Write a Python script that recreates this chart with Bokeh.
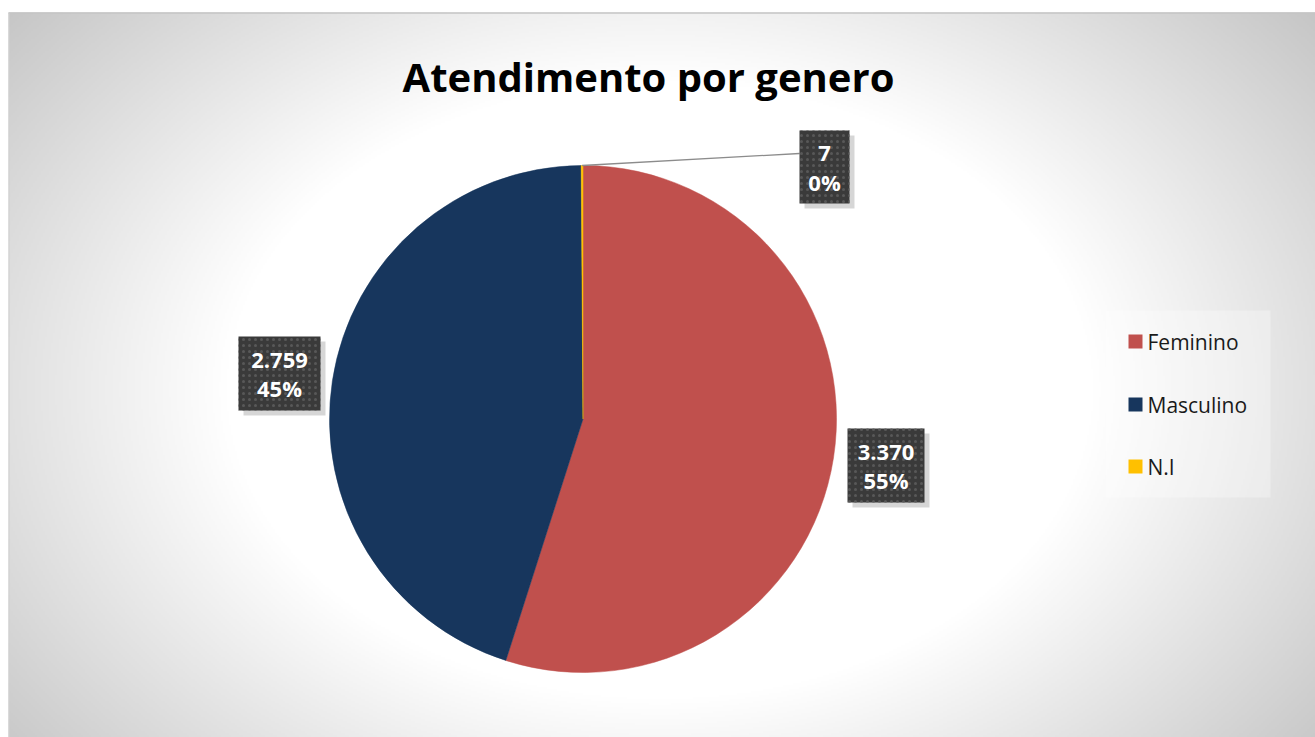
import numpy as np
from bokeh.plotting import figure
from bokeh.models import Range1d, ColumnDataSource
from bokeh.core.properties import value
from bokeh.embed import file_html
from bokeh.resources import INLINE

# ---- data ----
categories = ["Feminino", "Masculino", "N.I"]
counts = [3370, 2759, 7]
count_labels = ["3.370", "2.759", "7"]
pct_labels = ["55%", "45%", "0%"]
colors = ["#C0504D", "#17365D", "#FFC000"]
title_text = "Atendimento por genero"

W, H = 1315, 737
FONT = "Open Sans"

p = figure(width=W, height=H, output_backend="svg", toolbar_location=None,
           x_range=Range1d(0, W), y_range=Range1d(0, H),
           min_border=0, outline_line_color=None)
p.axis.visible = False
p.grid.visible = False
p.background_fill_color = "white"
p.border_fill_color = "white"

def Y(sy):
    return H - sy

# ---- background radial gradient (decoration) ----
step = 2
x0, y0 = 8, 12
xs = np.arange(x0, W, step) + step / 2
ys = np.arange(y0, H, step) + step / 2
X, Yg = np.meshgrid(xs, ys)
t = np.sqrt(((X - 660) / 700.0) ** 2 + ((Yg - 390) / 500.0) ** 2)
g = np.clip(255 - 98 * np.maximum(0, t - 0.62), 190, 255).astype(np.uint32)
img = (255 << 24) | (g << 16) | (g << 8) | g
img = img[::-1].astype(np.uint32)
p.image_rgba(image=[img], x=x0, y=0, dw=W - x0, dh=H - y0)
p.segment(x0=[x0], y0=[Y(12.5)], x1=[W], y1=[Y(12.5)], line_color="#c4c4c4", line_width=1.5)
p.segment(x0=[x0 + 0.5], y0=[Y(12.5)], x1=[x0 + 0.5], y1=[0], line_color="#cfcfcf", line_width=1)

# ---- title ----
p.text(x=[648], y=[Y(75.5)], text=[title_text], text_font=value(FONT),
       text_font_style="bold", text_font_size="40px", text_color="#000000",
       text_align="center", text_baseline="middle")

# ---- pie ----
cx, cy, r = 582.5, Y(418.5), 253.5
vals = np.array(counts, dtype=float)
frac = vals / vals.sum()
cum = np.concatenate([[0], np.cumsum(frac)])
a_start = np.pi / 2 - 2 * np.pi * cum[:-1]
a_end = np.pi / 2 - 2 * np.pi * cum[1:]
src = ColumnDataSource(dict(start=a_end, end=a_start, color=colors))
p.wedge(x=cx, y=cy, radius=r, start_angle="start", end_angle="end",
        direction="anticlock", fill_color="color", line_color="color",
        line_width=0.5, source=src)

# ---- data labels ----
lab_cx = [885.5, 279, 824]
lab_cy = [465, 373, 166.5]
lab_w = [77, 82, 50]
lab_h = [74, 74, 73]
mid_ni = (a_start[2] + a_end[2]) / 2
p.line(x=[cx + r * np.cos(mid_ni), 799], y=[cy + r * np.sin(mid_ni), Y(153)],
       line_color="#8c8c8c", line_width=1.3)
lsrc = ColumnDataSource(dict(
    x=lab_cx, y=[Y(v) for v in lab_cy], w=lab_w, h=lab_h,
    sx=[v + 5 for v in lab_cx], sy=[Y(v + 5) for v in lab_cy],
    c=count_labels, pc=pct_labels,
    ty1=[Y(v - 13.5) for v in lab_cy], ty2=[Y(v + 14.5) for v in lab_cy]))
p.rect(x="sx", y="sy", width="w", height="h", fill_color="#8a8a8a",
       fill_alpha=0.35, line_color=None, source=lsrc)
p.rect(x="x", y="y", width="w", height="h", fill_color="#3a3a3a",
       line_color=None, hatch_pattern="dot", hatch_color="#585858",
       hatch_scale=6, hatch_weight=2.5, source=lsrc)
p.text(x="x", y="ty1", text="c", text_font=value(FONT), text_font_style="bold",
       text_font_size="22px", text_color="white", text_align="center",
       text_baseline="middle", source=lsrc)
p.text(x="x", y="ty2", text="pc", text_font=value(FONT), text_font_style="bold",
       text_font_size="22px", text_color="white", text_align="center",
       text_baseline="middle", source=lsrc)

# ---- legend ----
p.rect(x=[1187.5], y=[Y(403.5)], width=165, height=187, fill_color="white",
       fill_alpha=0.3, line_color=None)
leg_y = [341, 404, 466]
legsrc = ColumnDataSource(dict(x=[1135] * 3, y=[Y(v) for v in leg_y],
                               ty=[Y(v + 0.5) for v in leg_y],
                               tx=[1147] * 3, name=categories, color=colors))
p.rect(x="x", y="y", width=14, height=14, fill_color="color", line_color=None,
       source=legsrc)
p.text(x="tx", y="ty", text="name", text_font=value(FONT), text_font_size="21px",
       text_color="#1a1a1a", text_align="left", text_baseline="middle",
       source=legsrc)

open("out.html", "w").write(file_html(p, INLINE))
